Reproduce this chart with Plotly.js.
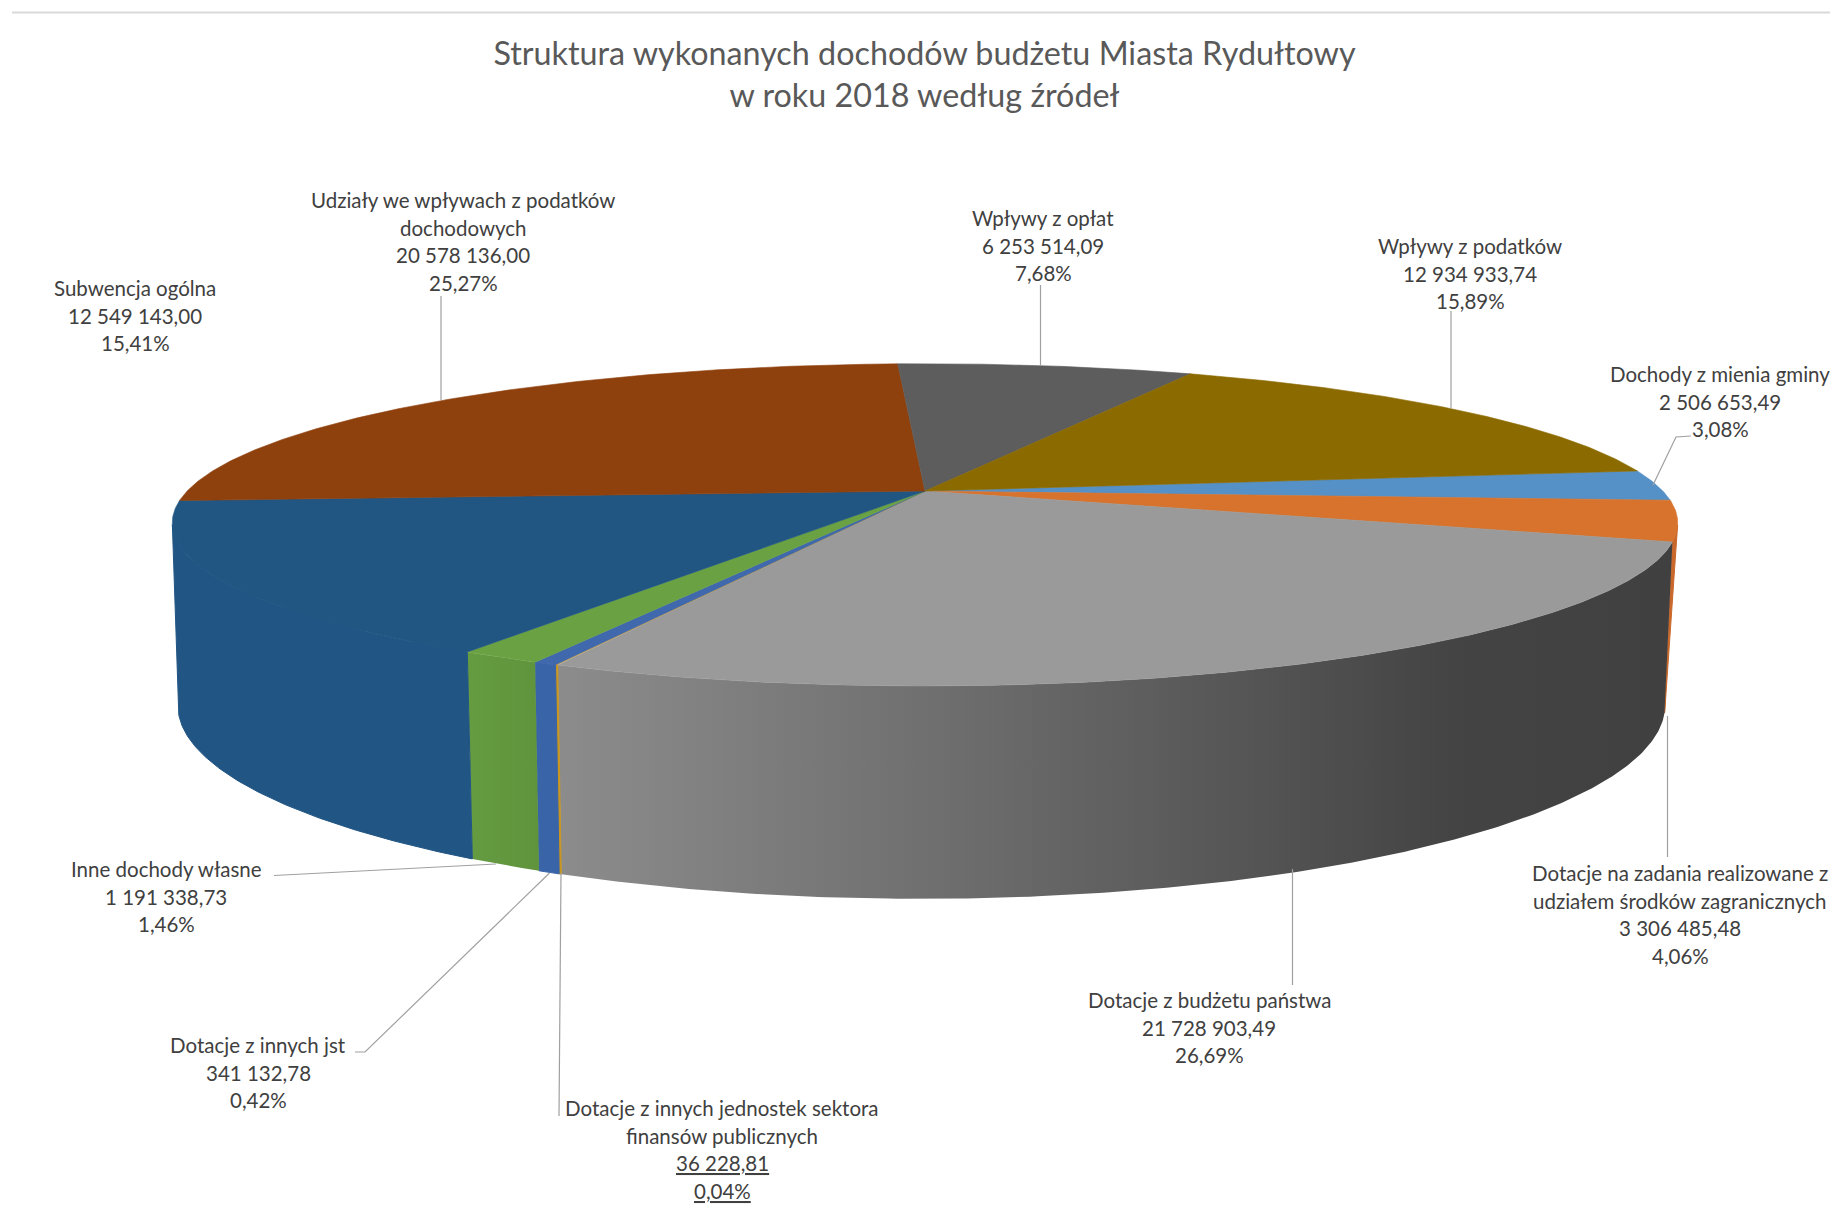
<!DOCTYPE html>
<html lang="pl">
<head>
<meta charset="utf-8">
<script src="https://cdn.plot.ly/plotly-3.0.1.min.js"></script>
<style>html,body{margin:0;padding:0;background:#fff;overflow:hidden}#chart{width:1830px;height:1208px}</style>
</head>
<body>
<div id="chart"></div>
<script>
// ---------- data ----------
const categories = [
  ["Dochody z mienia gminy"],
  ["Dotacje na zadania realizowane z", "udziałem środków zagranicznych"],
  ["Dotacje z budżetu państwa"],
  ["Dotacje z innych jednostek sektora", "finansów publicznych"],
  ["Dotacje z innych jst"],
  ["Inne dochody własne"],
  ["Subwencja ogólna"],
  ["Udziały we wpływach z podatków", "dochodowych"],
  ["Wpływy z opłat"],
  ["Wpływy z podatków"]
];
const values = [2506653.49, 3306485.48, 21728903.49, 36228.81, 341132.78, 1191338.73, 12549143.00, 20578136.00, 6253514.09, 12934933.74];
const amountLabels = ["2 506 653,49", "3 306 485,48", "21 728 903,49", "36 228,81", "341 132,78", "1 191 338,73", "12 549 143,00", "20 578 136,00", "6 253 514,09", "12 934 933,74"];
const percentLabels = ["3,08%", "4,06%", "26,69%", "0,04%", "0,42%", "1,46%", "15,41%", "25,27%", "7,68%", "15,89%"];

// ---------- style ----------
const topColors = ["#5590c6", "#d8732d", "#9a9a9a", "#c8951f", "#3f68ad", "#6aa243", "#215683", "#8e400d", "#5d5d5d", "#8b6a00"];
const wallStops = [
  null,
  [[0, "#c9682a"], [1, "#c9682a"]],
  [[0, "#8c8c8c"], [0.35, "#6e6e6e"], [0.62, "#555555"], [0.8, "#444444"], [1, "#404040"]],
  [[0, "#c8951f"], [1, "#c8951f"]],
  [[0, "#3a64a8"], [1, "#3a64a8"]],
  [[0, "#659b41"], [1, "#5f943c"]],
  [[0, "#215583"], [1, "#215583"]],
  null, null, null
];
// label placement: centre x and first-line y per category (same order as categories)
const labelX = [1720, 1680, 1209, 722, 258, 166, 135, 463, 1043, 1470];
const labelY = [374, 873, 1000, 1108, 1045, 869, 288, 200, 218, 246];
const lineStep = 27.5;
// leader lines per category
const leaders = [
  [[1691, 436], [1676, 437], [1653, 485]],
  [[1667.5, 716], [1667.5, 857]],
  [[1292.5, 869], [1292.5, 985]],
  [[561, 873], [559, 1116]],
  [[355, 1052], [365, 1052], [549.5, 873]],
  [[274, 875.5], [496, 864]],
  null,
  [[441, 296], [441, 400]],
  [[1040.5, 285], [1040.5, 365]],
  [[1451, 311], [1451, 408.5]]
];

// ---------- pie projection ----------
const topPlane = {cx: 925, cy: 491, A: 737.8, B: 154, kx: 0.198, ky: 0.2102};
const basePlane = {cx: 921.5, cy: 670, A: 730, B: 180.7, kx: 0.19, ky: 0.2102};
const startDeg = -7.7;
const rad = d => d * Math.PI / 180;
function project(p, deg) {
  const u = Math.cos(rad(deg)), v = Math.sin(rad(deg));
  return [p.cx + p.A * u / (1 - p.kx * v), p.cy + p.B * v / (1 - p.ky * v)];
}
function arc(p, a, b) {
  const n = Math.max(2, Math.ceil(Math.abs(b - a) * 2));
  const pts = [];
  for (let i = 0; i <= n; i++) pts.push(project(p, a + (b - a) * i / n));
  return pts;
}
const total = values.reduce((s, x) => s + x, 0);
let cursor = startDeg;
const spans = values.map(x => { const a = cursor; cursor += x / total * 360; return [a, cursor]; });

const silR = Math.asin(topPlane.ky) * 180 / Math.PI, silL = 180 - silR;
// the lower rim is seen at a steeper angle, so rim seams near the right silhouette
// sit closer to it there than on the upper rim
const baseAngle = d => d - 4.9 * Math.max(0, 1 - Math.abs(d - spans[1][1]) / 22) * (d > silR ? 1 : 0);
const traces = [];
const base = {type: "scatter", mode: "lines", fill: "toself", hoverinfo: "skip", showlegend: false};

// walls (front-facing part of the rim only)
spans.forEach(([a, b], i) => {
  const s = Math.max(a, silR), e = Math.min(b, silL);
  if (e <= s || !wallStops[i]) return;
  const lower = arc(basePlane, Math.max(baseAngle(e), silR), Math.max(baseAngle(s), silR));
  const pts = arc(topPlane, s, e).concat(lower);
  pts.push(pts[0]);
  const xs = pts.map(q => q[0]);
  const t = Object.assign({}, base, {x: xs, y: pts.map(q => q[1]), name: categories[i].join(" ")});
  const stops = wallStops[i];
  if (stops[0][1] === stops[stops.length - 1][1]) {
    t.fillcolor = stops[0][1];
    t.line = {color: stops[0][1], width: 1};
  } else {
    t.fillgradient = {type: "horizontal", colorscale: stops, start: Math.min(...xs), stop: Math.max(...xs)};
    t.line = {width: 0};
  }
  traces.push(t);
});

// top faces
spans.forEach(([a, b], i) => {
  const apex = [topPlane.cx, topPlane.cy];
  const pts = [apex].concat(arc(topPlane, a, b), [apex]);
  traces.push(Object.assign({}, base, {
    x: pts.map(q => q[0]), y: pts.map(q => q[1]), name: categories[i].join(" "),
    fillcolor: topColors[i], line: {color: topColors[i], width: 0.6}
  }));
});

// leaders
leaders.forEach(l => {
  if (!l) return;
  traces.push({type: "scatter", mode: "lines", x: l.map(q => q[0]), y: l.map(q => q[1]),
    line: {color: "#a0a0a0", width: 1.2}, hoverinfo: "skip", showlegend: false});
});

// ---------- labels ----------
const labelFont = {family: "Lato, sans-serif", size: 20.5, color: "#404040"};
const annotations = [];
categories.forEach((lines, i) => {
  const under = i === 3;
  lines.concat([amountLabels[i], percentLabels[i]]).forEach((txt, j) => {
    const isNum = j >= lines.length;
    annotations.push({
      xref: "x", yref: "y", x: labelX[i], y: labelY[i] + j * lineStep,
      text: txt, showarrow: false, xanchor: "center", yanchor: "middle",
      font: Object.assign({}, labelFont, under && isNum ? {lineposition: "under"} : {})
    });
  });
});

const layout = {
  width: 1830, height: 1208,
  margin: {l: 0, r: 0, t: 0, b: 0},
  paper_bgcolor: "#ffffff", plot_bgcolor: "#ffffff",
  showlegend: false,
  title: {
    text: "Struktura wykonanych dochodów budżetu Miasta Rydułtowy<br>w roku 2018 według źródeł",
    font: {family: "Lato, sans-serif", size: 32.3, color: "#595959"},
    x: 924.5 / 1830, xanchor: "center", xref: "paper",
    y: 1 - 65 / 1208, yanchor: "middle", yref: "paper"
  },
  xaxis: {range: [0, 1830], visible: false, fixedrange: true},
  yaxis: {range: [1208, 0], visible: false, fixedrange: true},
  shapes: [{type: "line", xref: "x", yref: "y", x0: 12, x1: 1830, y0: 12.5, y1: 12.5, line: {color: "#d9d9d9", width: 2}}],
  annotations
};
Plotly.newPlot("chart", traces, layout, {displayModeBar: false, staticPlot: true});
</script>
</body>
</html>
